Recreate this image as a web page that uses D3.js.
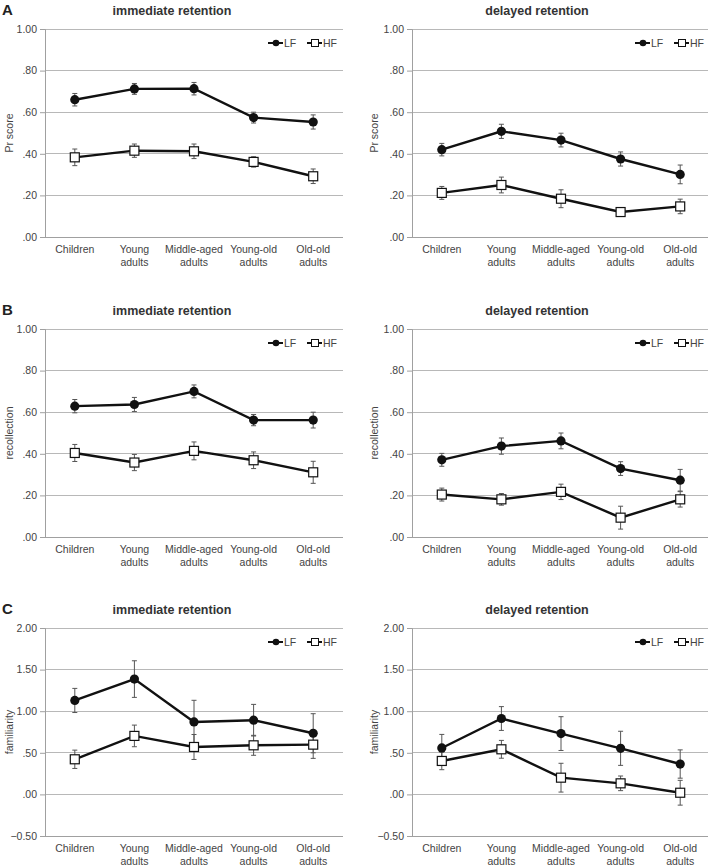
<!DOCTYPE html>
<html><head><meta charset="utf-8">
<script src="https://cdn.jsdelivr.net/npm/d3@7"></script>
<style>body{margin:0;background:#fff}svg{display:block}</style>
</head><body>
<script>
const categories = [["Children"],["Young","adults"],["Middle-aged","adults"],["Young-old","adults"],["Old-old","adults"]];
const seriesNames = ["LF","HF"];

// A: Pr score
const prTicks = [0, 0.2, 0.4, 0.6, 0.8, 1.0];
const prImmLF = [0.660, 0.712, 0.713, 0.574, 0.553];
const prImmLFerr = [0.030, 0.026, 0.030, 0.026, 0.034];
const prImmHF = [0.383, 0.415, 0.412, 0.361, 0.292];
const prImmHFerr = [0.040, 0.032, 0.035, 0.025, 0.035];
const prDelLF = [0.420, 0.508, 0.466, 0.375, 0.301];
const prDelLFerr = [0.030, 0.034, 0.033, 0.034, 0.045];
const prDelHF = [0.212, 0.250, 0.184, 0.120, 0.147];
const prDelHFerr = [0.031, 0.038, 0.043, 0.020, 0.035];

// B: recollection
const recTicks = [0, 0.2, 0.4, 0.6, 0.8, 1.0];
const recImmLF = [0.629, 0.637, 0.700, 0.562, 0.562];
const recImmLFerr = [0.032, 0.034, 0.031, 0.027, 0.038];
const recImmHF = [0.404, 0.358, 0.414, 0.369, 0.311];
const recImmHFerr = [0.041, 0.039, 0.043, 0.040, 0.053];
const recDelLF = [0.371, 0.437, 0.462, 0.329, 0.273];
const recDelLFerr = [0.031, 0.039, 0.038, 0.033, 0.052];
const recDelHF = [0.204, 0.181, 0.217, 0.093, 0.181];
const recDelHFerr = [0.031, 0.028, 0.037, 0.055, 0.037];

// C: familiarity
const famTicks = [-0.5, 0, 0.5, 1.0, 1.5, 2.0];
const famImmLF = [1.129, 1.386, 0.871, 0.892, 0.735];
const famImmLFerr = [0.145, 0.220, 0.260, 0.190, 0.235];
const famImmHF = [0.422, 0.703, 0.570, 0.590, 0.598];
const famImmHFerr = [0.110, 0.130, 0.150, 0.120, 0.165];
const famDelLF = [0.558, 0.912, 0.731, 0.554, 0.365];
const famDelLFerr = [0.163, 0.143, 0.203, 0.205, 0.170];
const famDelHF = [0.402, 0.542, 0.201, 0.133, 0.020];
const famDelHFerr = [0.105, 0.107, 0.173, 0.088, 0.149];

const panels = [
  {letter:"A", row:0, col:0, title:"immediate retention", ylabel:"Pr score", ticks:prTicks, LF:prImmLF, LFe:prImmLFerr, HF:prImmHF, HFe:prImmHFerr},
  {letter:null, row:0, col:1, title:"delayed retention", ylabel:"Pr score", ticks:prTicks, LF:prDelLF, LFe:prDelLFerr, HF:prDelHF, HFe:prDelHFerr},
  {letter:"B", row:1, col:0, title:"immediate retention", ylabel:"recollection", ticks:recTicks, LF:recImmLF, LFe:recImmLFerr, HF:recImmHF, HFe:recImmHFerr},
  {letter:null, row:1, col:1, title:"delayed retention", ylabel:"recollection", ticks:recTicks, LF:recDelLF, LFe:recDelLFerr, HF:recDelHF, HFe:recDelHFerr},
  {letter:"C", row:2, col:0, title:"immediate retention", ylabel:"familiarity", ticks:famTicks, LF:famImmLF, LFe:famImmLFerr, HF:famImmHF, HFe:famImmHFerr},
  {letter:null, row:2, col:1, title:"delayed retention", ylabel:"familiarity", ticks:famTicks, LF:famDelLF, LFe:famDelLFerr, HF:famDelHF, HFe:famDelHFerr}
];

const W = 708, H = 867;
const svg = d3.select("body").append("svg").attr("width", W).attr("height", H)
  .style("font-family", "'Liberation Sans', Arial, sans-serif");

const rowTop = [29, 329, 628];
const colLeft = [45, 412];
const plotW = 298, plotH = 208;
const titleX = [172, 537];
const ylabelX = [9, 374];
const txt = "#444";
const fmt = v => d3.format(".2f")(v).replace(/^(-?)0\./, "$1.");

panels.forEach(p => {
  const x0 = colLeft[p.col], y0 = rowTop[p.row];
  const g = svg.append("g").attr("transform", `translate(${x0},${y0})`);
  const x = d3.scalePoint().domain(d3.range(categories.length)).range([0, plotW]).padding(0.5);
  const y = d3.scaleLinear().domain(d3.extent(p.ticks)).range([plotH, 0]);

  // gridlines
  g.append("g").selectAll("line").data(p.ticks).join("line")
    .attr("x1", 0).attr("x2", plotW).attr("y1", d => y(d)).attr("y2", d => y(d))
    .attr("stroke", "#b8b8b8").attr("stroke-width", 1).attr("shape-rendering", "crispEdges");

  // y axis
  const ya = g.append("g").call(d3.axisLeft(y).tickValues(p.ticks).tickFormat(fmt).tickSize(5).tickPadding(3));
  ya.select(".domain").attr("stroke", "#a0a0a0");
  ya.selectAll(".tick line").attr("stroke", "#a0a0a0");
  ya.selectAll("text").attr("fill", txt).style("font-size", "10.5px").style("font-family", "'Liberation Sans', Arial, sans-serif");

  // x axis baseline
  g.append("line").attr("x1", 0).attr("x2", plotW).attr("y1", plotH).attr("y2", plotH)
    .attr("stroke", "#a0a0a0").attr("shape-rendering", "crispEdges");

  // x labels
  const xl = g.append("g").selectAll("text").data(categories).join("text")
    .attr("x", (d, i) => x(i)).attr("y", plotH + 16)
    .attr("text-anchor", "middle").attr("fill", txt).style("font-size", "10.5px");
  xl.selectAll("tspan").data(d => d).join("tspan")
    .attr("x", function() { return d3.select(this.parentNode).attr("x"); })
    .attr("dy", (d, i) => i === 0 ? 0 : 12.5).text(d => d);

  // title
  svg.append("text").attr("x", titleX[p.col]).attr("y", y0 - 14)
    .attr("text-anchor", "middle").attr("fill", "#333").style("font-weight", "bold").style("font-size", "12.5px")
    .text(p.title);
  if (p.letter) {
    svg.append("text").attr("x", 2).attr("y", y0 - 14).attr("fill", "#222")
      .style("font-weight", "bold").style("font-size", "15px").text(p.letter);
  }
  // y label
  svg.append("text").attr("transform", `translate(${ylabelX[p.col]},${y0 + plotH / 2}) rotate(-90)`)
    .attr("text-anchor", "middle").attr("dy", "0.35em").attr("fill", txt).style("font-size", "10.5px").text(p.ylabel);

  const series = [
    {name:"LF", v:p.LF, e:p.LFe},
    {name:"HF", v:p.HF, e:p.HFe}
  ];
  // error bars
  series.forEach(s => {
    const eb = g.append("g").attr("stroke", "#555").attr("stroke-width", 1);
    s.v.forEach((v, i) => {
      const cx = x(i), t = y(v + s.e[i]), b = y(v - s.e[i]);
      eb.append("line").attr("x1", cx).attr("x2", cx).attr("y1", t).attr("y2", b);
      eb.append("line").attr("x1", cx - 2.5).attr("x2", cx + 2.5).attr("y1", t).attr("y2", t);
      eb.append("line").attr("x1", cx - 2.5).attr("x2", cx + 2.5).attr("y1", b).attr("y2", b);
    });
  });
  // lines
  const line = d3.line().x((d, i) => x(i)).y(d => y(d));
  series.forEach(s => {
    g.append("path").datum(s.v).attr("d", line).attr("fill", "none")
      .attr("stroke", "#111").attr("stroke-width", 2.4);
  });
  // markers
  g.append("g").selectAll("circle").data(p.LF).join("circle")
    .attr("cx", (d, i) => x(i)).attr("cy", d => y(d)).attr("r", 4.6).attr("fill", "#111");
  g.append("g").selectAll("rect").data(p.HF).join("rect")
    .attr("x", (d, i) => x(i) - 4.5).attr("y", d => y(d) - 4.5).attr("width", 9).attr("height", 9)
    .attr("fill", "#fff").attr("stroke", "#111").attr("stroke-width", 1.2);

  // legend
  const lg = g.append("g").attr("transform", `translate(${plotW - 75},14)`);
  const l1 = lg.append("g");
  l1.append("line").attr("x1", 0).attr("x2", 15).attr("stroke", "#111").attr("stroke-width", 2);
  l1.append("circle").attr("cx", 8).attr("r", 3.3).attr("fill", "#111");
  l1.append("text").attr("x", 16).attr("dy", "0.35em").attr("fill", txt).style("font-size", "10.5px").text(seriesNames[0]);
  const l2 = lg.append("g").attr("transform", "translate(39,0)");
  l2.append("line").attr("x1", 0).attr("x2", 15).attr("stroke", "#111").attr("stroke-width", 2);
  l2.append("rect").attr("x", 4.5).attr("y", -3.5).attr("width", 7).attr("height", 7).attr("fill", "#fff").attr("stroke", "#111");
  l2.append("text").attr("x", 16).attr("dy", "0.35em").attr("fill", txt).style("font-size", "10.5px").text(seriesNames[1]);
});
</script>
</body></html>
